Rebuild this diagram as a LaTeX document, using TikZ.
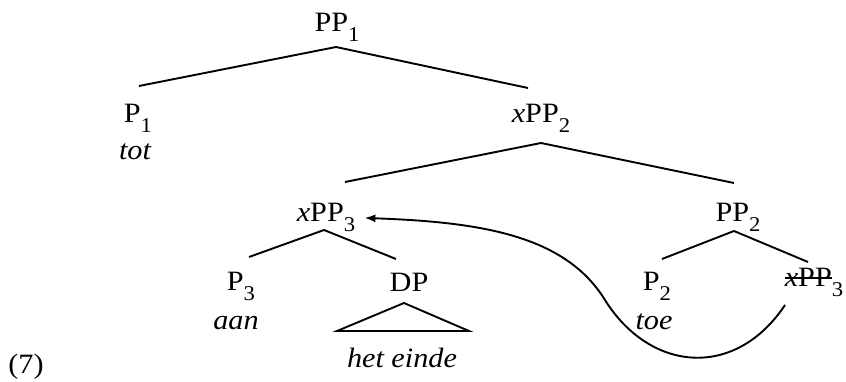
\documentclass[tikz,border=0pt]{standalone}
\usepackage{fontspec}
\setmainfont{Liberation Serif}[FakeStretch=1.08]
\usetikzlibrary{arrows.meta}
\newcommand{\sbs}[1]{\raisebox{-10pt}{\fontsize{21}{21}\selectfont #1}}
\newcommand{\strk}[1]{\setbox0\hbox{#1}\rlap{\rule[7pt]{\wd0}{2pt}}\box0}
\begin{document}
\begin{tikzpicture}[x=1pt,y=-1pt,
  lbl/.style={anchor=base,inner sep=0pt,font=\fontsize{28}{34}\selectfont},
  br/.style={line width=1.9pt},
  mv/.style={line width=1.9pt,-{Latex[length=11pt,width=8pt]}}]
\useasboundingbox (0,0) rectangle (846,382);
% nodes
\node[lbl] (pp1) at (337,32) {PP\sbs{1}};
\node[lbl] (p1) at (138,123) {P\sbs{1}};
\node[lbl] (tot) at (135,160) {\itshape tot};
\node[lbl] (xpp2) at (541,123) {\textit{x}PP\sbs{2}};
\node[lbl] (xpp3) at (326,222) {\textit{x}PP\sbs{3}};
\node[lbl] (pp2) at (738,222) {PP\sbs{2}};
\node[lbl] (p3) at (241,290) {P\sbs{3}};
\node[lbl] (dp) at (409,291) {DP};
\node[lbl] (aan) at (236,329) {\itshape aan};
\node[lbl] (het) at (402,367) {\itshape het einde};
\node[lbl] (p2) at (657,290) {P\sbs{2}};
\node[lbl] (toe) at (654,329) {\itshape toe};
\node[lbl] (xs) at (814,286) {\strk{\textit{x}PP}\sbs{3}};
\node[lbl] (ex) at (26,373) {(7)};
% branch points
\coordinate (a1) at (336,47); \coordinate (l1) at (139,86); \coordinate (r1) at (528,88);
\coordinate (a2) at (541,143); \coordinate (l2) at (345,182); \coordinate (r2) at (734,183);
\coordinate (a3) at (324,230); \coordinate (l3) at (249,257); \coordinate (r3) at (396,259);
\coordinate (a4) at (734,231); \coordinate (l4) at (662,259); \coordinate (r4) at (808,262);
\coordinate (ta) at (404,303); \coordinate (tl) at (337,331); \coordinate (tr) at (469,331);
\draw[br] (l1) -- (a1) -- (r1);
\draw[br] (l2) -- (a2) -- (r2);
\draw[br] (l3) -- (a3) -- (r3);
\draw[br] (l4) -- (a4) -- (r4);
\draw[br] (ta) -- (tl) -- (tr) -- cycle;
% movement arrow
\coordinate (st) at (785,305);
\coordinate (tip) at ([xshift=9pt]xpp3.east);
\draw[mv] (st) .. controls (735,380) and (650,372) .. (605,300)
  .. controls (565,235) and (480,222) .. (tip);
\end{tikzpicture}
\end{document}
